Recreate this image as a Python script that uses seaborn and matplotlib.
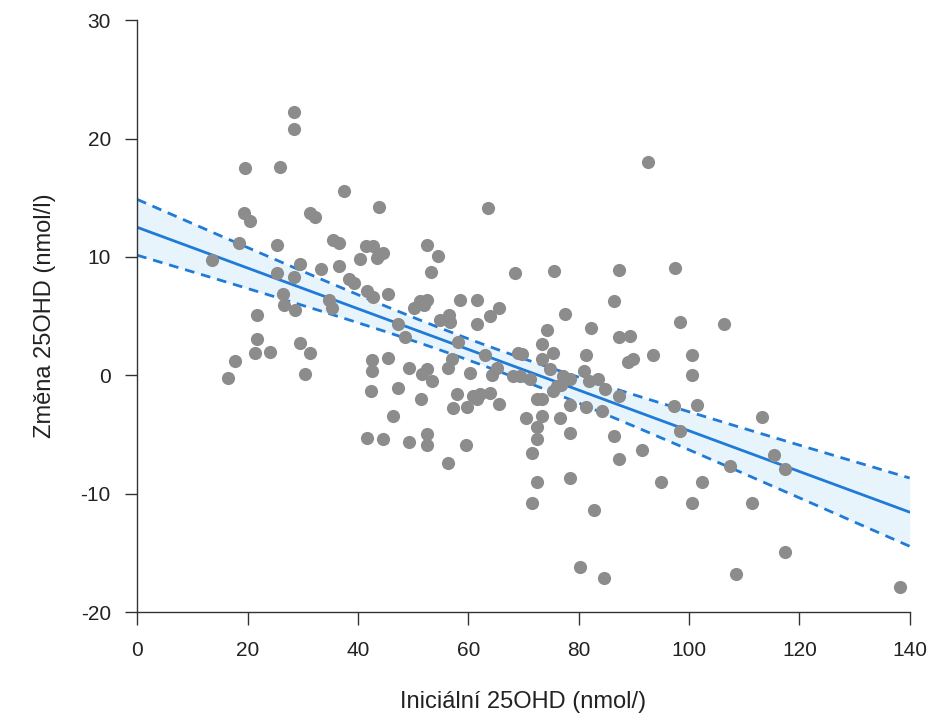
import numpy as np
import pandas as pd
import matplotlib
matplotlib.use("Agg")
import matplotlib.pyplot as plt
import seaborn as sns

# hodnoty
inicialni = [
    28.5, 28.5, 19.6, 25.8, 37.5, 43.8, 19.3, 20.5, 31.4, 32.3,
    18.4, 25.4, 35.5, 36.5, 41.4, 42.7, 40.4, 43.7, 44.6, 43.4,
    13.5, 29.5, 25.4, 28.5, 33.3, 36.5, 38.4, 39.3, 41.6, 42.7,
    45.4, 26.5, 34.8, 35.4, 26.6, 28.6, 21.7, 47.2, 21.7, 21.4,
    24.1, 17.8, 16.4, 29.5, 31.4, 30.5, 42.6, 42.6, 45.5, 42.3,
    47.2, 46.4, 41.6, 44.5, 92.5, 63.5, 52.5, 54.5, 53.2, 68.5,
    75.5, 87.4, 50.1, 51.3, 52.5, 51.9, 58.5, 61.5, 65.6, 86.5,
    77.5, 64.0, 56.5, 61.5, 54.9, 56.7, 48.6, 74.2, 73.3, 75.4,
    82.3, 87.4, 89.3, 81.3, 89.9, 89.0, 93.4, 58.2, 63.0, 69.7,
    69.1, 73.3, 49.3, 52.5, 51.6, 53.5, 57.0, 56.4, 60.4, 65.2,
    64.3, 68.2, 69.4, 71.2, 74.8, 77.2, 78.4, 76.9, 75.4, 76.0,
    80.9, 81.8, 83.6, 84.8, 87.4, 51.4, 58.0, 57.3, 59.7, 60.9,
    62.1, 63.9, 61.5, 65.6, 72.4, 73.3, 78.4, 81.3, 84.2, 70.4,
    73.3, 76.6, 72.4, 72.5, 78.4, 86.5, 49.3, 52.5, 52.5, 59.6,
    56.4, 71.6, 87.4, 91.5, 72.4, 78.4, 71.5, 82.8, 80.3, 84.6,
    95.0, 97.4, 98.4, 106.3, 100.5, 100.5, 97.3, 101.5, 98.4, 113.3,
    107.5, 115.4, 117.4, 102.4, 100.5, 111.5, 117.4, 108.5, 138.3,
]
zmena = [
    22.2, 20.8, 17.5, 17.6, 15.6, 14.2, 13.7, 13.0, 13.7, 13.4,
    11.2, 11.0, 11.4, 11.2, 10.9, 10.9, 9.8, 10.1, 10.3, 9.9,
    9.7, 9.4, 8.6, 8.3, 9.0, 9.2, 8.1, 7.8, 7.1, 6.6,
    6.9, 6.9, 6.4, 5.7, 5.9, 5.5, 5.1, 4.3, 3.1, 1.9,
    2.0, 1.2, -0.25, 2.7, 1.9, 0.1, 1.3, 0.4, 1.5, -1.3,
    -1.1, -3.4, -5.3, -5.4, 18.0, 14.1, 11.0, 10.1, 8.7, 8.6,
    8.8, 8.9, 5.7, 6.3, 6.4, 5.9, 6.4, 6.4, 5.7, 6.3,
    5.2, 5.0, 5.1, 4.3, 4.7, 4.5, 3.2, 3.8, 2.6, 1.9,
    4.0, 3.2, 3.3, 1.7, 1.4, 1.1, 1.7, 2.8, 1.7, 1.8,
    1.9, 1.4, 0.65, 0.5, 0.1, -0.5, 1.4, 0.65, 0.2, 0.65,
    0.0, -0.05, -0.05, -0.3, 0.5, -0.05, -0.3, -0.8, -1.3, -0.9,
    0.4, -0.5, -0.3, -1.2, -1.75, -2.0, -1.6, -2.8, -2.7, -1.75,
    -1.6, -1.5, -2.0, -2.4, -2.0, -2.0, -2.5, -2.65, -3.0, -3.6,
    -3.45, -3.6, -4.4, -5.4, -4.9, -5.1, -5.65, -5.0, -5.9, -5.85,
    -7.4, -6.55, -7.1, -6.3, -9.0, -8.7, -10.8, -11.4, -16.2, -17.1,
    -9.0, 9.1, 4.5, 4.3, 1.7, 0.0, -2.6, -2.5, -4.7, -3.5,
    -7.7, -6.75, -7.9, -9.0, -10.8, -10.8, -14.9, -16.8, -17.9,
]
x_ticky = [0, 20, 40, 60, 80, 100, 120, 140]
y_ticky = [-20, -10, 0, 10, 20, 30]

df = pd.DataFrame({"inicialni": inicialni, "zmena": zmena})

sns.set_style("ticks")
plt.rcParams["font.family"] = ["Liberation Sans", "DejaVu Sans"]
plt.rcParams["axes.unicode_minus"] = False

modra = "#1f7ad8"
seda = "#8c8c8c"
tmava = "#333333"

fig = plt.figure(figsize=(9.33, 7.2), dpi=100)
ax = fig.add_axes([0.147, 0.15, 0.828, 0.822])
ax.set_xlim(0, 140)
ax.set_ylim(-20, 30)

# 95% pás spolehlivosti regresní přímky
sklon, prusecik = np.polyfit(df["inicialni"], df["zmena"], 1)
xs = np.linspace(0, 140, 200)
n = len(df)
rezidua = df["zmena"] - (prusecik + sklon * df["inicialni"])
s = np.sqrt((rezidua ** 2).sum() / (n - 2))
xm = df["inicialni"].mean()
sxx = ((df["inicialni"] - xm) ** 2).sum()
se = s * np.sqrt(1 / n + (xs - xm) ** 2 / sxx)
t = 1.974
yfit = prusecik + sklon * xs
ax.fill_between(xs, yfit - t * se, yfit + t * se, color="#e8f4fc", lw=0, zorder=1)
ax.plot(xs, yfit + t * se, ls=(0, (3.5, 2.5)), color=modra, lw=2, zorder=2)
ax.plot(xs, yfit - t * se, ls=(0, (3.5, 2.5)), color=modra, lw=2, zorder=2)

sns.regplot(data=df, x="inicialni", y="zmena", ax=ax, ci=None, truncate=False,
            scatter_kws=dict(color=seda, s=90, alpha=1, linewidths=0, zorder=3),
            line_kws=dict(color=modra, lw=2, zorder=2))

ax.set_xlim(0, 140)
ax.set_ylim(-20, 30)
ax.set_xticks(x_ticky)
ax.set_yticks(y_ticky)
sns.despine(ax=ax)
for sp in ["left", "bottom"]:
    ax.spines[sp].set_color(tmava)
    ax.spines[sp].set_linewidth(1)
ax.tick_params(axis="both", direction="out", length=9, width=1, color=tmava,
               labelsize=15, labelcolor="#222222")
ax.tick_params(axis="x", pad=12)
ax.tick_params(axis="y", pad=10)

ax.set_xlabel("Iniciální 25OHD (nmol/)", fontsize=17, color="#222222", labelpad=22)
ax.set_ylabel("Změna 25OHD (nmol/l)", fontsize=17, color="#222222", labelpad=18)

plt.savefig("out.png", dpi=100)
